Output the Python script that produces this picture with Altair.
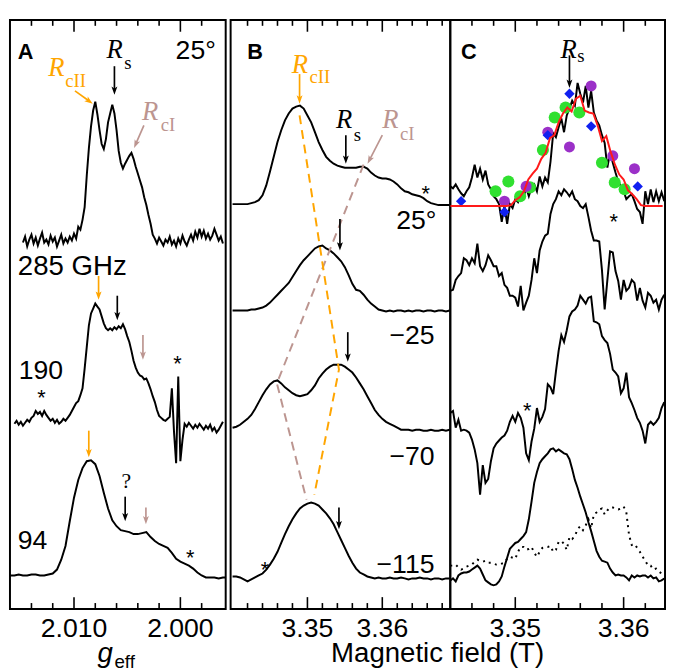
import math
import altair as alt
import pandas as pd

# ---------------- style ----------------
SANS = "Liberation Sans"
SERIF = "Liberation Serif"
ORANGE = "#FFA500"
ROSY = "#BC9590"
GREEN = "#30E030"
PURPLE = "#9B30C8"
BLUE = "#1020F0"
RED = "#FF1A1A"
H = 598
WA, WB, WC = 219, 223, 218
HEAD = "M0,0 L-0.75,-2.1 L0,-1.6 L0.75,-2.1 Z"
MAJOR_LEN, MINOR_LEN = 12, 6
LABEL_H = -28  # baseline of tick labels, in intensity units below the frame

# ---------------- axes ----------------
A_DOMAIN = [2.01602, 1.99574]
B_DOMAIN = [3.33974, 3.36908]
C_DOMAIN = [3.34400, 3.36382]
A_MAJOR = [2.010, 2.000]
A_MINOR = [2.014, 2.012, 2.008, 2.006, 2.004, 2.002, 1.998]
B_MAJOR = [3.35, 3.36]
B_MINOR = [3.342, 3.344, 3.346, 3.348, 3.352, 3.354, 3.356, 3.358,
           3.362, 3.364, 3.366, 3.368]
C_MAJOR = [3.35, 3.36]
C_MINOR = [3.346, 3.348, 3.352, 3.354, 3.356, 3.358, 3.362]

# ---------------- panel A spectra: g_eff grid + intensity (a.u.) ----------------
A1_START, A1_STEP = 2.0148, -0.0002
A1_285GHZ = [372, 378, 368, 375, 380, 371, 377, 369, 376, 382,
             372, 375, 370, 379, 373, 377, 368, 374, 380, 371,
             376, 372, 378, 374, 381, 376, 388, 385, 395, 408,
             440, 468, 490, 506, 515, 502, 486, 472, 467, 477,
             494, 503, 512, 503, 486, 465, 453, 447, 452, 456,
             460, 463, 457, 449, 442, 435, 428, 418, 410, 400,
             391, 380, 376, 371, 377, 373, 369, 375, 372, 378,
             370, 374, 368, 376, 371, 379, 373, 369, 375, 380,
             374, 383, 377, 386, 378, 384, 376, 381, 375, 379,
             386, 380, 374, 378, 371]
A2_START, A2_STEP = 2.0156, -0.0002
A2_190GHZ = [188, 191, 187, 190, 186, 189, 192, 190, 194, 196,
             201, 198, 200, 196, 201, 197, 194, 191, 193, 189,
             192, 188, 190, 193, 191, 194, 197, 201, 205, 209,
             211, 217, 224, 244, 266, 288, 300, 305, 310, 307,
             304, 297, 290, 285, 283, 285, 283, 286, 284, 287,
             285, 289, 284, 277, 271, 262, 252, 245, 240, 237,
             236, 233, 234, 229, 223, 216, 210, 202, 196, 194,
             192, 191, 193, 195, 224, 180, 148, 236, 150, 172,
             188, 185, 189, 186, 183, 187, 184, 188, 185, 182,
             186, 183, 187, 181, 184, 179, 182, 186, 190]
A3_START, A3_STEP = 2.0160, -0.0004
A3_94GHZ = [34, 34, 35, 34, 34, 35, 35, 34, 34, 35,
            36, 40, 50, 64, 89, 113, 131, 143, 150, 151,
            147, 135, 118, 102, 90, 84, 80, 79, 78, 76,
            76, 77, 78, 73, 69, 66, 64, 62, 57, 51,
            48, 46, 44, 41, 37, 34, 32, 32, 32, 31,
            32, 32]

# ---------------- panel B spectra: field grid (T) ----------------
B_START, B_STEP = 3.3400, 0.0005
B_25 = [411, 411, 411, 411, 411, 412, 413, 415, 420, 430,
        444, 459, 474, 486, 496, 503, 508, 510, 511, 508,
        501, 494, 484, 474, 466, 459, 455, 452, 450, 449,
        448, 448, 448, 448, 449, 449, 447, 443, 440, 438,
        437, 437, 436, 434, 431, 427, 424, 423, 421, 420,
        419, 417, 414, 412, 411, 410, 410, 410, 410]
B_M25 = [303, 303, 303, 303, 303, 304, 304, 305, 306, 308,
         311, 315, 319, 323, 327, 331, 337, 343, 349, 354,
         358, 362, 366, 368, 369, 366, 364, 361, 357, 353,
         347, 339, 330, 324, 323, 319, 314, 310, 307, 304,
         303, 302, 303, 302, 303, 303, 302, 303, 302, 303,
         303, 302, 303, 303, 302, 303, 303, 302, 303]
B_M70 = [184, 185, 187, 190, 193, 197, 203, 210, 217, 223,
         228, 231, 232, 229, 225, 222, 219, 217, 216, 217,
         218, 222, 227, 234, 239, 243, 246, 248, 248, 248,
         246, 243, 240, 235, 229, 223, 216, 209, 202, 197,
         193, 190, 188, 186, 184, 182, 182, 182, 181, 182,
         182, 181, 181, 182, 181, 181, 182, 181, 182]
B_M115 = [33, 33, 32, 30, 28, 30, 32, 34, 36, 40,
          45, 51, 58, 67, 76, 84, 91, 97, 102, 105,
          107, 108, 107, 105, 101, 97, 92, 86, 78, 70,
          62, 54, 47, 41, 37, 35, 33, 32, 31, 32,
          31, 31, 32, 31, 31, 32, 31, 30, 31, 31,
          32, 31, 31, 30, 31, 31, 30, 31, 31]
ORANGE_GUIDE_X = [3.34895, 3.35421, 3.35092]
ORANGE_GUIDE_H = [501, 243, 116]
ROSY_GUIDE_X = [3.35750, 3.34592, 3.34987]
ROSY_GUIDE_H = [451, 229, 111]

# ---------------- panel C spectra ----------------
C_START, C_STEP = 3.3440, 0.00025
C_1 = [429, 427, 431, 426, 422, 419, 424, 428, 438, 451,
       438, 447, 436, 445, 431, 426, 419, 416, 411, 393,
       409, 391, 411, 407, 416, 413, 421, 417, 428, 419,
       428, 431, 424, 439, 429, 438, 433, 454, 483, 479,
       489, 498, 484, 501, 508, 516, 511, 534, 523, 514,
       531, 509, 526, 504, 496, 491, 481, 473, 448, 464,
       453, 443, 434, 429, 424, 416, 419, 421, 414, 406,
       403, 391, 424, 411, 426, 413, 424, 414, 423, 414]
C_2 = [323, 324, 334, 338, 341, 356, 354, 349, 356, 351,
       371, 348, 343, 349, 359, 354, 348, 348, 338, 341,
       329, 326, 318, 318, 316, 307, 328, 303, 311, 318,
       334, 356, 341, 364, 373, 379, 381, 401, 411, 416,
       424, 420, 426, 423, 419, 424, 416, 414, 409, 407,
       411, 398, 384, 374, 374, 373, 344, 304, 334, 363,
       362, 343, 333, 314, 334, 323, 326, 334, 331, 313,
       326, 313, 306, 321, 318, 311, 314, 304, 314, 319]
C_3 = [199, 201, 184, 192, 181, 182, 181, 179, 172, 162,
       148, 116, 146, 128, 132, 150, 163, 168, 171, 174,
       176, 181, 190, 196, 190, 199, 194, 184, 158, 151,
       170, 183, 204, 190, 195, 203, 228, 225, 218, 241,
       262, 278, 271, 283, 297, 302, 304, 308, 318, 314,
       310, 316, 317, 292, 291, 289, 277, 273, 270, 259,
       243, 240, 236, 219, 224, 240, 215, 209, 202, 194,
       189, 181, 168, 187, 190, 187, 190, 194, 204, 210]
C_4 = [29, 31, 28, 34, 36, 37, 37, 38, 40, 42,
       44, 41, 35, 29, 27, 25, 24, 25, 28, 33,
       43, 52, 61, 64, 67, 68, 71, 74, 78, 91,
       109, 128, 139, 148, 152, 155, 158, 162, 163, 160,
       162, 160, 158, 157, 152, 142, 131, 123, 114, 106,
       98, 88, 79, 69, 59, 53, 49, 48, 47, 41,
       37, 34, 35, 34, 34, 32, 29, 34, 32, 34,
       33, 34, 34, 32, 34, 31, 32, 28, 29, 31]
C_DOTTED = [44, 44, 45, 42, 40, 41, 43, 44, 45, 48,
            50, 49, 48, 49, 47, 47, 46, 45, 45, 46,
            47, 51, 53, 52, 51, 58, 63, 63, 60, 61,
            63, 57, 53, 58, 62, 63, 63, 64, 58, 60,
            68, 69, 66, 60, 73, 71, 74, 81, 84, 80,
            85, 91, 82, 96, 98, 101, 102, 96, 100, 103,
            103, 102, 101, 102, 104, 98, 75, 65, 66, 62,
            58, 53, 49, 44, 44, 40, 41, 38, 36, 37]
FIT_START, FIT_STEP = 3.3440, 0.0004
C_FIT = [409, 409, 409, 409, 409, 409, 409, 409, 409, 409,
         409, 409, 409, 409, 410, 415, 418, 424, 436, 442,
         447, 457, 463, 478, 481, 494, 503, 509, 505, 518,
         521, 506, 504, 503, 491, 475, 480, 464, 451, 441,
         436, 425, 421, 416, 410, 409, 409, 409, 409, 409]
GREEN_X = [3.34818, 3.34936, 3.35045, 3.35136, 3.35255, 3.35364,
           3.35464, 3.35591, 3.35800, 3.35918, 3.36009]
GREEN_H = [424, 434, 419, 428, 466, 499, 509, 504, 453, 433, 426]
PURPLE_X = [3.349, 3.351, 3.353, 3.355, 3.357, 3.359, 3.361]
PURPLE_H = [414, 429, 484, 469, 531, 460, 447]
BLUE_X = [3.345, 3.349, 3.353, 3.355, 3.357, 3.3613]
BLUE_H = [414, 403, 481, 523, 490, 429]

# ---------------- arrows: (x_start, h_start, x_tip, h_tip, color) ----------------
A_ARROWS = [
    (2.00991, 526, 2.00824, 513, ORANGE),
    (2.00620, 551, 2.00620, 522, "black"),
    (2.00343, 491, 2.00435, 468, ROSY),
    (2.00769, 338, 2.00769, 314, ORANGE),
    (2.00593, 318, 2.00593, 293, "black"),
    (2.00352, 278, 2.00352, 253, ROSY),
    (2.00861, 181, 2.00861, 154, ORANGE),
    (2.00519, 114, 2.00519, 89, "black"),
    (2.00324, 103, 2.00324, 86, ROSY),
]
B_ARROWS = [
    (3.34895, 543, 3.34895, 513, ORANGE),
    (3.35513, 481, 3.35513, 452, "black"),
    (3.36000, 481, 3.35803, 452, ROSY),
    (3.35434, 396, 3.35434, 364, "black"),
    (3.35539, 281, 3.35539, 251, "black"),
    (3.35421, 103, 3.35421, 81, "black"),
]
C_ARROWS = [(3.35500, 562, 3.35500, 529, "black")]

# ---------------- texts: (x, h, text, kind, color, align) ----------------
A_TEXTS = [
    (2.01528, 558, "A", "letter", "black", "left"),
    (1.99667, 558, "25°", "label", "black", "right"),
    (2.01528, 339, "285 GHz", "label28", "black", "left"),
    (2.01519, 233, "190", "label", "black", "left"),
    (2.01528, 61, "94", "label", "black", "left"),
    (2.01306, 207, "*", "star", "black", "center"),
    (2.00028, 242, "*", "star", "black", "center"),
    (1.99907, 45, "*", "star", "black", "center"),
    (2.00509, 123, "?", "q", "black", "center"),
    (2.01241, 541, "R", "R", ORANGE, "left"),
    (2.01083, 530, "cII", "sub", ORANGE, "left"),
    (2.00694, 559, "R", "R", "black", "left"),
    (2.00528, 548, "s", "sub", "black", "left"),
    (2.00361, 496, "R", "R", ROSY, "left"),
    (2.00185, 485, "cI", "sub", ROSY, "left"),
    (2.00778, -54, "g", "gi", "black", "left"),
    (2.00620, -60, "eff", "gsub", "black", "left"),
]
B_TEXTS = [
    (3.34197, 558, "B", "letter", "black", "left"),
    (3.34789, 544, "R", "R", ORANGE, "left"),
    (3.35026, 534, "cII", "sub", ORANGE, "left"),
    (3.35382, 488, "R", "R", "black", "left"),
    (3.35618, 475, "s", "sub", "black", "left"),
    (3.36000, 488, "R", "R", ROSY, "left"),
    (3.36237, 476, "cI", "sub", ROSY, "left"),
    (3.36579, 414, "*", "star", "black", "center"),
    (3.36724, 386, "25°", "label", "black", "right"),
    (3.36697, 269, "\u221225", "label", "black", "right"),
    (3.36697, 146, "\u221270", "label", "black", "right"),
    (3.36697, 36, "\u2212115", "label", "black", "right"),
    (3.34434, 32, "*", "star", "black", "center"),
    (3.35316, -54, "Magnetic field (T)", "label28", "black", "left"),
]
C_TEXTS = [
    (3.34500, 558, "C", "letter", "black", "left"),
    (3.35418, 559, "R", "R", "black", "left"),
    (3.35573, 555, "s", "sub", "black", "left"),
    (3.35909, 386, "*", "star", "black", "center"),
    (3.35109, 194, "*", "star", "black", "center"),
]

KINDS = {
    "letter": dict(font=SANS, fontSize=22, fontWeight="bold"),
    "label": dict(font=SANS, fontSize=27),
    "label28": dict(font=SANS, fontSize=28),
    "R": dict(font=SERIF, fontSize=27, fontStyle="italic"),
    "sub": dict(font=SERIF, fontSize=19),
    "star": dict(font=SANS, fontSize=22),
    "q": dict(font=SERIF, fontSize=22),
    "gi": dict(font=SANS, fontSize=28, fontStyle="italic"),
    "gsub": dict(font=SANS, fontSize=19),
}


# ---------------- helpers ----------------
class Panel:
    def __init__(self, dom, width):
        self.dom = dom
        self.width = width

    def x(self, field="x"):
        return alt.X(f"{field}:Q", scale=alt.Scale(domain=self.dom, nice=False, zero=False),
                     axis=None)


def yenc(field="h"):
    return alt.Y(f"{field}:Q", scale=alt.Scale(domain=[0, H], nice=False, zero=False), axis=None)


def series(name, start, step, values):
    return pd.DataFrame({
        "x": [round(start + step * k, 7) for k in range(len(values))],
        "h": values,
        "trace": name,
        "i": list(range(len(values))),
    })


def tick_layers(p, major, minor, fmt):
    # inward ticks on bottom and top frame edges + tick labels, all placed through the x scale
    out = []
    for vals, ln in ((major, MAJOR_LEN), (minor, MINOR_LEN)):
        tdf = pd.DataFrame({"x": vals})
        out.append(alt.Chart(tdf).mark_rule(color="black", strokeWidth=1.6).encode(
            x=p.x(), y=alt.value(H), y2=alt.value(H - ln)))
        out.append(alt.Chart(tdf).mark_rule(color="black", strokeWidth=1.6).encode(
            x=p.x(), y=alt.value(0), y2=alt.value(ln)))
    ldf = pd.DataFrame({"x": major, "h": [LABEL_H] * len(major),
                        "t": [format(v, fmt) for v in major]})
    out.append(alt.Chart(ldf).mark_text(align="center", baseline="alphabetic", color="black",
                                        font=SANS, fontSize=27).encode(
        x=p.x(), y=yenc(), text="t:N"))
    return out


def arrow_layers(p, arrows):
    kx = p.width / (p.dom[1] - p.dom[0])
    rows = []
    for (x0, h0, x1, h1, col) in arrows:
        dx = (x1 - x0) * kx
        dy = -(h1 - h0)
        ln = math.hypot(dx, dy)
        ux, uy = dx / ln, dy / ln
        ang = (math.degrees(math.atan2(-dx, dy)) + 360) % 360
        rows.append(dict(x=x0, h=h0, xe=x1 - 5 * ux / kx, he=h1 + 5 * uy,
                         xt=x1, ht=h1, c=col, ang=ang))
    df = pd.DataFrame(rows)
    shaft = alt.Chart(df).mark_rule(strokeWidth=1.7).encode(
        x=p.x(), y=yenc(), x2="xe:Q", y2="he:Q", color=alt.Color("c:N", scale=None))
    head = alt.Chart(df).mark_point(shape=HEAD, filled=True, size=64, opacity=1, strokeWidth=0).encode(
        x=p.x("xt"), y=yenc("ht"), angle=alt.Angle("ang:Q", scale=None),
        color=alt.Color("c:N", scale=None))
    return [shaft, head]


def text_layers(p, items):
    out = []
    for (x, h, t, kind, color, align) in items:
        df = pd.DataFrame({"x": [x], "h": [h], "t": [t]})
        out.append(alt.Chart(df).mark_text(align=align, baseline="alphabetic", color=color,
                                           **KINDS[kind]).encode(x=p.x(), y=yenc(), text="t:N"))
    return out


def panel(p, major, minor, fmt, traces, extra, arrows, texts):
    base = alt.Chart(traces).mark_line(color="black", strokeWidth=2, clip=True).encode(
        x=p.x(), y=yenc(), detail="trace:N", order="i:Q")
    layers = [base] + tick_layers(p, major, minor, fmt) + extra + \
        arrow_layers(p, arrows) + text_layers(p, texts)
    return alt.layer(*layers).properties(width=p.width, height=H)


# ---------------- panel A ----------------
PA = Panel(A_DOMAIN, WA)
a_df = pd.concat([
    series("285", A1_START, A1_STEP, A1_285GHZ),
    series("190", A2_START, A2_STEP, A2_190GHZ),
    series("94", A3_START, A3_STEP, A3_94GHZ),
])
pA = panel(PA, A_MAJOR, A_MINOR, ".3f", a_df, [], A_ARROWS, A_TEXTS)

# ---------------- panel B ----------------
PB = Panel(B_DOMAIN, WB)
b_df = pd.concat([
    series("25", B_START, B_STEP, B_25),
    series("-25", B_START, B_STEP, B_M25),
    series("-70", B_START, B_STEP, B_M70),
    series("-115", B_START, B_STEP, B_M115),
])
og = pd.DataFrame({"x": ORANGE_GUIDE_X, "h": ORANGE_GUIDE_H, "i": [0, 1, 2]})
rg = pd.DataFrame({"x": ROSY_GUIDE_X, "h": ROSY_GUIDE_H, "i": [0, 1, 2]})
b_extra = [
    alt.Chart(rg).mark_line(color=ROSY, strokeWidth=2, strokeDash=[9, 6]).encode(
        x=PB.x(), y=yenc(), order="i:Q"),
    alt.Chart(og).mark_line(color=ORANGE, strokeWidth=2, strokeDash=[9, 6]).encode(
        x=PB.x(), y=yenc(), order="i:Q"),
]
pB = panel(PB, B_MAJOR, B_MINOR, ".2f", b_df, b_extra, B_ARROWS, B_TEXTS)

# ---------------- panel C ----------------
PC = Panel(C_DOMAIN, WC)
c_df = pd.concat([
    series("c1", C_START, C_STEP, C_1),
    series("c2", C_START, C_STEP, C_2),
    series("c3", C_START, C_STEP, C_3),
    series("c4", C_START, C_STEP, C_4),
])
dot_df = series("dot", C_START, C_STEP, C_DOTTED)
fit_df = series("fit", FIT_START, FIT_STEP, C_FIT)
gdf = pd.DataFrame({"x": GREEN_X, "h": GREEN_H})
pdf = pd.DataFrame({"x": PURPLE_X, "h": PURPLE_H})
bdf = pd.DataFrame({"x": BLUE_X, "h": BLUE_H})
c_extra = [
    alt.Chart(dot_df).mark_line(color="black", strokeWidth=2, strokeDash=[2, 4.5], clip=True).encode(
        x=PC.x(), y=yenc(), order="i:Q"),
    alt.Chart(gdf).mark_point(shape="circle", filled=True, size=150, color=GREEN, opacity=1).encode(
        x=PC.x(), y=yenc()),
    alt.Chart(pdf).mark_point(shape="circle", filled=True, size=125, color=PURPLE, opacity=1).encode(
        x=PC.x(), y=yenc()),
    alt.Chart(bdf).mark_point(shape="diamond", filled=True, size=110, color=BLUE, opacity=1).encode(
        x=PC.x(), y=yenc()),
    alt.Chart(fit_df).mark_line(color=RED, strokeWidth=2, clip=True).encode(
        x=PC.x(), y=yenc(), order="i:Q"),
]
pC = panel(PC, C_MAJOR, C_MINOR, ".2f", c_df, c_extra, C_ARROWS, C_TEXTS)

chart = alt.hconcat(
    pA,
    alt.hconcat(pB, pC, spacing=0, bounds="flush"),
    spacing=5, bounds="flush",
).properties(
    padding={"left": 1, "top": 5, "right": 0, "bottom": 0},
    background="white",
).configure_view(stroke="black", strokeWidth=2)

chart.save("out.html", embed_options={"renderer": "svg", "actions": False})
